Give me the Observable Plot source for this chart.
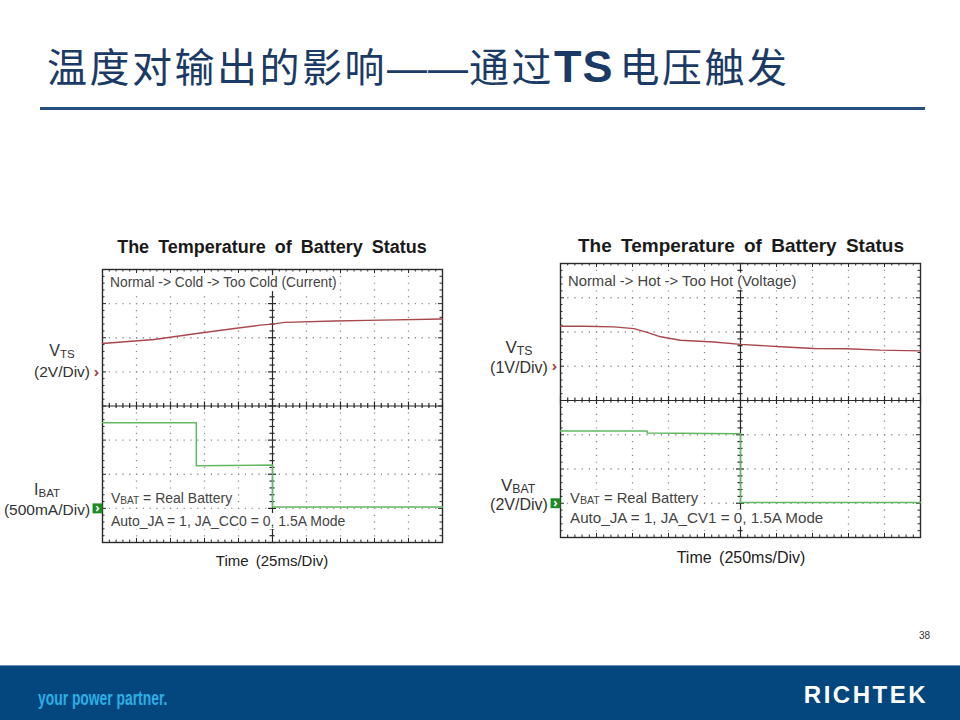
<!DOCTYPE html>
<html><head><meta charset="utf-8">
<script src="https://cdn.jsdelivr.net/npm/d3@7"></script>
<script src="https://cdn.jsdelivr.net/npm/@observablehq/plot@0.6"></script>
<style>
html,body{margin:0;padding:0;background:#fff}
body{width:960px;height:720px;position:relative;overflow:hidden;font-family:Arial,"Liberation Sans",sans-serif;color:#333}
.t{position:absolute;white-space:nowrap;line-height:1}
.c{transform:translate(-50%,-50%)}
.l{transform:translateY(-50%)}
.r{transform:translate(-100%,-50%)}
.sub{font-size:0.72em;position:relative;top:0.14em}
.note{background:#fff;padding:1px 2px;margin-left:-2px}
.scope{position:absolute}
.scope svg{overflow:visible;background:transparent}
</style></head><body>
<script>
// ---------------- data ----------------
// Left scope: Normal -> Cold -> Too Cold (Current), 25 ms/div
const leftTimePerDiv = 25;          // ms
const leftVtsPerDiv = 2;            // V
const leftIbatPerDiv = 500;         // mA
const leftVtsTime = [0, 38, 72, 97, 116, 125, 134, 171, 195, 250];           // ms
const leftVts     = [1.66, 1.90, 2.28, 2.54, 2.74, 2.80, 2.90, 2.98, 3.02, 3.10]; // V
const leftIbatTime = [0, 69, 69, 125, 125, 250];                             // ms
const leftIbat     = [1255, 1255, 625, 635, 20, 20];                         // mA

// Right scope: Normal -> Hot -> Too Hot (Voltage), 250 ms/div
const rightTimePerDiv = 250;        // ms
const rightVtsPerDiv = 1;           // V
const rightVbatPerDiv = 2;          // V
const rightVtsTime = [0, 162, 370, 510, 602, 695, 833, 1065, 1250, 1528, 1760, 1990, 2222, 2500];
const rightVts     = [1.17, 1.17, 1.15, 1.10, 0.99, 0.86, 0.76, 0.71, 0.64, 0.57, 0.52, 0.51, 0.47, 0.45];
const rightVbatTime = [0, 602, 602, 1250, 1250, 2500];
const rightVbat     = [4.22, 4.22, 4.10, 4.06, 0.04, 0.04];

// channel ground reference levels (divisions from the bottom of the screen)
const ch1Ground = 5;
const ch2Ground = 1;

const chartTitle = "The Temperature of Battery Status";
const pageTitle = ["温度对输出的影响", "——", "通过", "TS", "电压触发"];

// ---------------- helpers ----------------
const RED = "#a9484c", GREEN = "#62b862", GBOX = "#1c8c22";

function label(html, x, y, cls, style) {
  const d = document.createElement("div");
  d.className = "t " + cls;
  d.innerHTML = html;
  d.style.left = x + "px";
  d.style.top = y + "px";
  Object.assign(d.style, style || {});
  document.body.appendChild(d);
  return d;
}

function scope(cfg) {
  const W = cfg.fw, H = cfg.fh;
  const mL = 16, mR = 6, mT = 6, mB = 6;
  const pxX = W / 10, pxY = H / 8;
  const tx = d3.range(0, 51).map(i => i / 5);
  const ty = d3.range(0, 41).map(i => i / 5);
  const major = v => Math.abs(v - Math.round(v)) < 1e-6;
  const ly = v => (major(v) ? 4 : 2.5) / pxY;
  const lx = v => (major(v) ? 4 : 2.5) / pxX;
  const gridX = d3.range(1, 10).filter(v => v !== 5);
  const gridY = d3.range(1, 8).filter(v => v !== 4);
  const tr1 = cfg.t1.map((t, i) => ({x: t / cfg.tdiv, y: ch1Ground + cfg.v1[i] / cfg.d1}));
  const tr2 = cfg.t2.map((t, i) => ({x: t / cfg.tdiv, y: ch2Ground + cfg.v2[i] / cfg.d2}));
  const ink = "#2a2a2a";
  const svg = Plot.plot({
    width: W + mL + mR, height: H + mT + mB,
    marginLeft: mL, marginRight: mR, marginTop: mT, marginBottom: mB,
    x: {domain: [0, 10], axis: null},
    y: {domain: [0, 8], axis: null},
    style: {background: "transparent", overflow: "visible"},
    marks: [
      Plot.ruleY(gridY, {y: d => d, stroke: "#8c8c8c", strokeWidth: 1.3, strokeDasharray: `1.2 ${pxX / 5 - 1.2}`}),
      Plot.ruleX(gridX, {x: d => d, stroke: "#8c8c8c", strokeWidth: 1.3, strokeDasharray: `1.2 ${pxY / 5 - 1.2}`}),
      Plot.ruleX([5], {x: d => d, stroke: ink, strokeWidth: 1.2}),
      Plot.ruleY([4], {y: d => d, stroke: ink, strokeWidth: 1.2}),
      // ticks on centre lines
      Plot.ruleX(tx, {x: d => d, y1: d => 4 - ly(d), y2: d => 4 + ly(d), stroke: ink, strokeWidth: 1.2}),
      Plot.ruleY(ty, {y: d => d, x1: d => 5 - lx(d), x2: d => 5 + lx(d), stroke: ink, strokeWidth: 1.2}),
      // ticks on frame edges
      Plot.ruleX(tx, {x: d => d, y1: 8, y2: d => 8 - ly(d), stroke: ink}),
      Plot.ruleX(tx, {x: d => d, y1: 0, y2: d => ly(d), stroke: ink}),
      Plot.ruleY(ty, {y: d => d, x1: 0, x2: d => lx(d), stroke: ink}),
      Plot.ruleY(ty, {y: d => d, x1: d => 10 - lx(d), x2: 10, stroke: ink}),
      Plot.frame({stroke: ink, strokeWidth: 1.4}),
      // traces
      Plot.line(tr1, {x: "x", y: "y", stroke: RED, strokeWidth: 1.4}),
      Plot.line(tr2, {x: "x", y: "y", stroke: GREEN, strokeWidth: 1.5}),
      // ground markers
      Plot.text([ch1Ground], {x: () => 0, y: d => d, text: () => "›", dx: -6, fill: RED, fontSize: 15, fontWeight: "bold"}),
      Plot.dot([ch2Ground], {x: () => 0, y: d => d, symbol: "square", r: 5.6, fill: GBOX, dx: -5}),
      Plot.text([ch2Ground], {x: () => 0, y: d => d, text: () => "›", dx: -5, fill: "#fff", fontSize: 12, fontWeight: "bold"})
    ]
  });
  const wrap = document.createElement("div");
  wrap.className = "scope";
  wrap.style.left = (cfg.fx - mL) + "px";
  wrap.style.top = (cfg.fy - mT) + "px";
  wrap.appendChild(svg);
  document.body.appendChild(wrap);
}

// ---------------- page header ----------------
const latin = "font-family:Arial,'Liberation Sans',sans-serif";
label(`${pageTitle[0]}<span style="${latin};letter-spacing:1px">${pageTitle[1]}</span>${pageTitle[2]}<span style="${latin};font-weight:bold;font-size:45px;letter-spacing:1px;margin-right:6px">${pageTitle[3]}</span>${pageTitle[4]}`,
  47, 66, "l", {fontFamily: "'Noto Sans CJK SC',sans-serif", fontSize: "40px", color: "#1b3a66", letterSpacing: "2.5px"});
const rule = document.createElement("div");
Object.assign(rule.style, {position: "absolute", left: "40px", top: "107px", width: "885px", height: "3px", background: "#27527f"});
document.body.appendChild(rule);

// ---------------- scopes ----------------
scope({fx: 102, fy: 269, fw: 340, fh: 273, tdiv: leftTimePerDiv,
  t1: leftVtsTime, v1: leftVts, d1: leftVtsPerDiv,
  t2: leftIbatTime, v2: leftIbat, d2: leftIbatPerDiv});
scope({fx: 560, fy: 263, fw: 360, fh: 274, tdiv: rightTimePerDiv,
  t1: rightVtsTime, v1: rightVts, d1: rightVtsPerDiv,
  t2: rightVbatTime, v2: rightVbat, d2: rightVbatPerDiv});

// left scope texts
label(chartTitle, 272, 247, "c", {fontSize: "18px", fontWeight: "bold", wordSpacing: "4px", color: "#1a1a1a"});
label("Normal -&gt; Cold -&gt; Too Cold (Current)", 110, 283, "l note", {fontSize: "13.8px", color: "#444"});
label(`V<span class="sub">BAT</span> = Real Battery`, 111, 498, "l note", {fontSize: "14px", color: "#444"});
label("Auto_JA = 1, JA_CC0 = 0, 1.5A Mode", 111, 521, "l note", {fontSize: "14px", color: "#444"});
label(`V<span class="sub">TS</span>`, 62, 351, "c", {fontSize: "16px"});
label("(2V/Div)", 62, 372, "c", {fontSize: "15.5px"});
label(`I<span class="sub">BAT</span>`, 47, 490, "c", {fontSize: "16px"});
label("(500mA/Div)", 47, 510, "c", {fontSize: "15.5px"});
label("Time (25ms/Div)", 272, 560, "c", {fontSize: "15px", wordSpacing: "3px", color: "#222"});

// right scope texts
label(chartTitle, 741, 245, "c", {fontSize: "19px", fontWeight: "bold", wordSpacing: "4px", color: "#1a1a1a"});
label("Normal -&gt; Hot -&gt; Too Hot (Voltage)", 568, 281, "l note", {fontSize: "14.8px", color: "#444"});
label(`V<span class="sub">BAT</span> = Real Battery`, 570, 498, "l note", {fontSize: "14.8px", color: "#444"});
label("Auto_JA = 1, JA_CV1 = 0, 1.5A Mode", 570, 518, "l note", {fontSize: "15.2px", color: "#444"});
label(`V<span class="sub">TS</span>`, 519, 347, "c", {fontSize: "17px"});
label("(1V/Div)", 519, 368, "c", {fontSize: "16px"});
label(`V<span class="sub">BAT</span>`, 518, 485, "c", {fontSize: "17px"});
label("(2V/Div)", 519, 505, "c", {fontSize: "16px"});
label("Time (250ms/Div)", 741, 558, "c", {fontSize: "16px", wordSpacing: "3px", color: "#222"});

// ---------------- footer ----------------
label("38", 930, 636, "r", {fontSize: "10px", color: "#333"});
const band = document.createElement("div");
Object.assign(band.style, {position: "absolute", left: "0", top: "665px", width: "960px", height: "55px", background: "#03477e", borderTop: "1px solid #6d95bd"});
document.body.appendChild(band);
label("your power partner.", 38, 697, "", {fontSize: "21px", fontWeight: "bold", color: "#2eaee4", transform: "translateY(-50%) scaleX(0.66)", transformOrigin: "0 50%"});
label("RICHTEK", 928, 695, "r", {fontSize: "24px", fontWeight: "bold", color: "#fff", letterSpacing: "2.5px"});
</script>
</body></html>
